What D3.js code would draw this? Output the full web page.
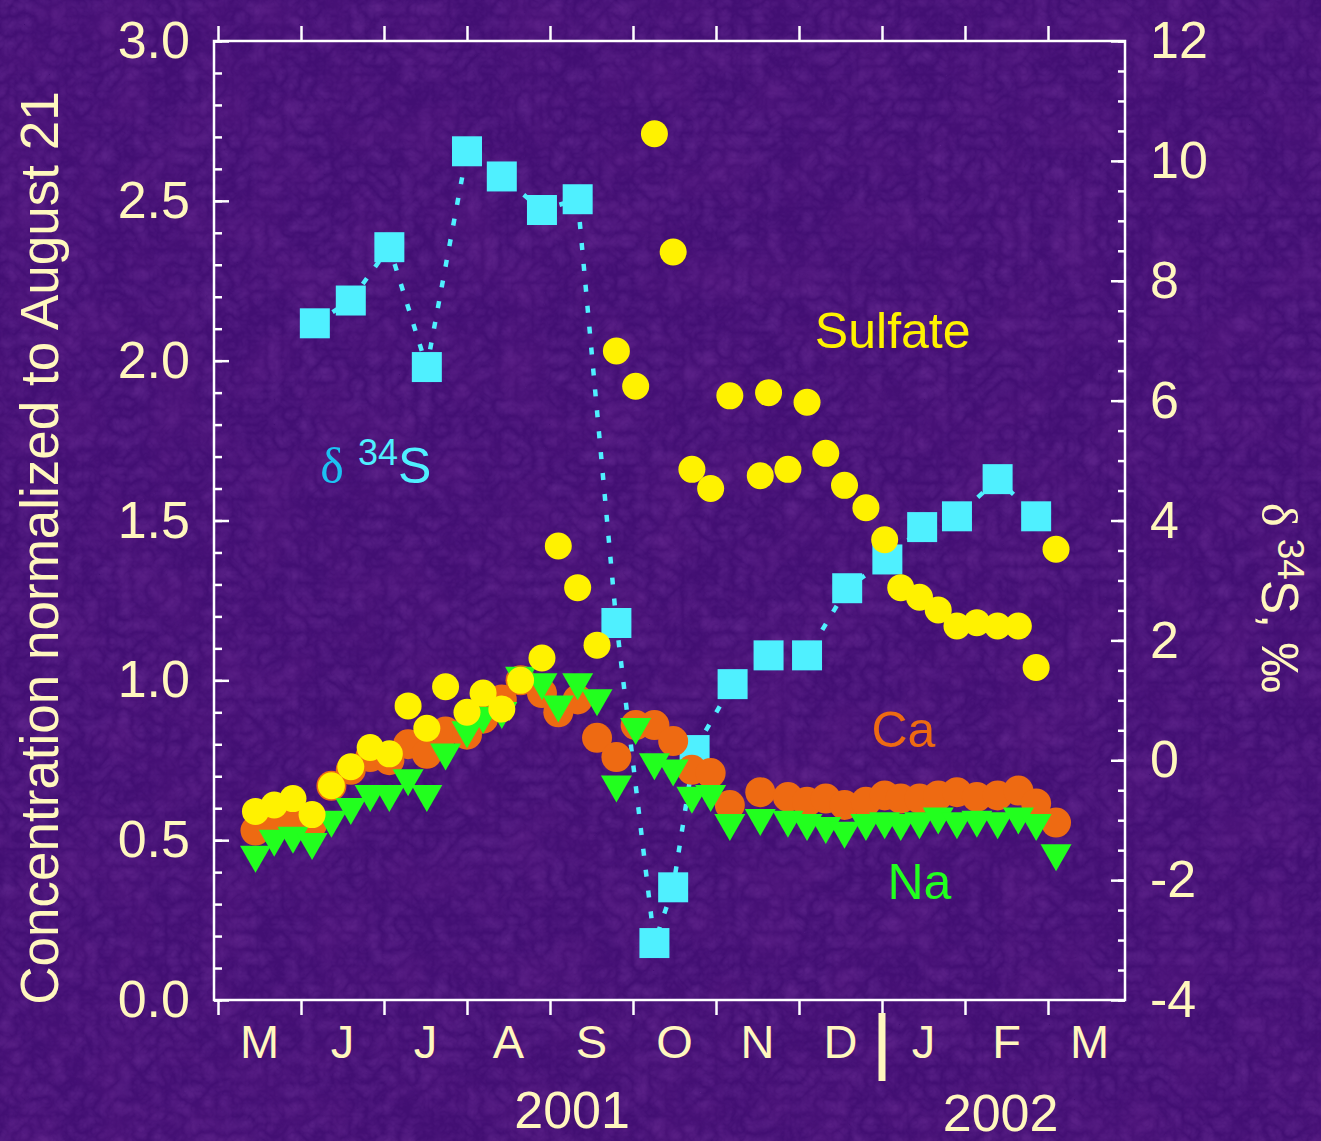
<!DOCTYPE html>
<html>
<head>
<meta charset="utf-8">
<script src="https://cdn.jsdelivr.net/npm/d3@7"></script>
<style>
  html, body { margin: 0; padding: 0; background: #420f73; }
  svg { display: block; }
</style>
</head>
<body>
<svg id="chart" width="1321" height="1141"></svg>
<script>
// Weekly sampling dates for the dissolved-ion series
const sampleDates = [
  "2001-05-15","2001-05-22","2001-05-29","2001-06-05","2001-06-12","2001-06-19","2001-06-26",
  "2001-07-03","2001-07-10","2001-07-17","2001-07-24","2001-08-01","2001-08-07","2001-08-14",
  "2001-08-21","2001-08-29","2001-09-04","2001-09-11","2001-09-18","2001-09-25","2001-10-02",
  "2001-10-09","2001-10-16","2001-10-23","2001-10-30","2001-11-06","2001-11-17","2001-11-20",
  "2001-11-27","2001-12-04","2001-12-11","2001-12-18","2001-12-26","2002-01-02","2002-01-08",
  "2002-01-15","2002-01-22","2002-01-29","2002-02-05","2002-02-12","2002-02-19","2002-02-25",
  "2002-03-04"
];

// Concentrations normalized to the August 21 sample (null = not measured)
const sulfate = [
  0.59, 0.61, 0.63, 0.58, 0.67, 0.73, 0.79, 0.77, 0.92, 0.85, 0.98, 0.90, 0.96, 0.91,
  1.00, 1.07, 1.42, 1.29, 1.11, 2.03, 1.92, 2.71, 2.34, 1.66, 1.60, 1.89, 1.64, 1.90,
  1.66, 1.87, 1.71, 1.61, 1.54, 1.44, 1.29, 1.26, 1.22, 1.17, 1.18, 1.17, 1.17, 1.04,
  1.41
];
const calcium = [
  0.53, 0.56, 0.58, 0.55, 0.67, 0.72, 0.76, 0.75, 0.80, 0.77, 0.84, 0.83, 0.88, 0.94,
  1.00, 0.96, 0.90, 0.94, 0.82, 0.76, 0.86, 0.86, 0.81, 0.72, 0.71, 0.61, 0.65, null,
  0.635, 0.62, 0.63, 0.61, 0.62, 0.64, 0.63, 0.63, 0.64, 0.65, 0.635, 0.64, 0.655, 0.615,
  0.555
];
const sodium = [
  0.44, 0.49, 0.50, 0.48, 0.55, 0.59, 0.63, 0.63, 0.68, 0.63, 0.76, 0.83, 0.875, 0.89,
  1.00, 0.98, 0.91, 0.98, 0.93, 0.66, 0.84, 0.73, 0.71, 0.625, 0.63, 0.54, 0.555, null,
  0.55, 0.54, 0.53, 0.515, 0.54, 0.545, 0.54, 0.545, 0.56, 0.545, 0.55, 0.545, 0.56, 0.54,
  0.445
];

// Sulfur isotope composition of sulfate, per mil
const d34SDates = [
  "2001-06-06","2001-06-19","2001-07-03","2001-07-17","2001-08-01","2001-08-14","2001-08-29",
  "2001-09-11","2001-09-25","2001-10-09","2001-10-16","2001-10-24","2001-11-07","2001-11-20",
  "2001-12-04","2001-12-19","2002-01-03","2002-01-16","2002-01-29","2002-02-12","2002-02-25"
];
const d34S = [
  7.29, 7.67, 8.56, 6.56, 10.16, 9.74, 9.18, 9.36, 2.29, -3.05, -2.12, 0.17, 1.27, 1.75,
  1.75, 2.87, 3.35, 3.89, 4.07, 4.69, 4.07
];

// Axis labelling
const monthLetters = ["M","J","J","A","S","O","N","D","J","F","M"];
const leftTicks = [0, 0.5, 1, 1.5, 2, 2.5, 3];
const rightTicks = [-4, -2, 0, 2, 4, 6, 8, 10, 12];
const yearLabels = ["2001", "2002"];
const yearLabelDates = ["2001-09-09", "2002-02-13"];

// ---------------------------------------------------------------
const parse = d3.timeParse("%Y-%m-%d");
const svg = d3.select("#chart");
const W = 1321, H = 1141;
const plot = { left: 214, right: 1125, top: 41, bottom: 1000 };
const cream = "#fff7be";
const sans = "'Liberation Sans', Arial, Helvetica, sans-serif";
const serif = "'Liberation Serif', 'Times New Roman', serif";

// Months are drawn with equal widths: a piecewise time scale through month starts
const monthStarts = d3.timeMonth.range(new Date(2001, 4, 1), new Date(2002, 3, 2));
const monthW = 83;
const x = d3.scaleTime()
  .domain(monthStarts)
  .range(monthStarts.map((d, i) => 218 + monthW * i));
const yL = d3.scaleLinear().domain([0, 3]).range([plot.bottom, plot.top]);
const yR = d3.scaleLinear().domain([-4, 12]).range([plot.bottom, plot.top]);

// Background with a fine, fibrous purple texture
const defs = svg.append("defs");
const tex = defs.append("filter").attr("id", "mottle")
  .attr("x", 0).attr("y", 0).attr("width", "100%").attr("height", "100%");
tex.append("feTurbulence").attr("type", "turbulence")
  .attr("baseFrequency", "0.06").attr("numOctaves", 3).attr("seed", 11).attr("result", "n");
tex.append("feColorMatrix").attr("in", "n").attr("type", "matrix")
  .attr("values", "0 0 0 0 0.40  0 0 0 0 0.12  0 0 0 0 0.62  1.3 0 0 0 -0.1");
const tex2 = defs.append("filter").attr("id", "shade")
  .attr("x", 0).attr("y", 0).attr("width", "100%").attr("height", "100%");
tex2.append("feTurbulence").attr("type", "fractalNoise")
  .attr("baseFrequency", "0.02").attr("numOctaves", 2).attr("seed", 4).attr("result", "n");
tex2.append("feColorMatrix").attr("in", "n").attr("type", "matrix")
  .attr("values", "0 0 0 0 0.16  0 0 0 0 0.02  0 0 0 0 0.28  -1.4 0 0 0 0.85");
svg.append("rect").attr("width", W).attr("height", H).attr("fill", "#420f73");
svg.append("rect").attr("width", W).attr("height", H)
  .attr("filter", "url(#mottle)").attr("opacity", 0.22);
svg.append("rect").attr("width", W).attr("height", H)
  .attr("filter", "url(#shade)").attr("opacity", 0.35);

// Frame
svg.append("rect")
  .attr("x", plot.left).attr("y", plot.top)
  .attr("width", plot.right - plot.left).attr("height", plot.bottom - plot.top)
  .attr("fill", "none").attr("stroke", "#ffffff").attr("stroke-width", 2.5);

function styleTicks(g, w) {
  g.select(".domain").remove();
  g.selectAll(".tick line").attr("stroke", "#ffffff").attr("stroke-width", w);
}
function styleLabels(g, size) {
  g.select(".domain").remove();
  g.selectAll(".tick line").remove();
  g.selectAll(".tick text").attr("fill", cream)
    .style("font-family", sans).style("font-size", size + "px");
}

// Left axis: minor and major ticks pointing inward, labels outside
svg.append("g").attr("transform", `translate(${plot.left},0)`)
  .call(d3.axisRight(yL).tickValues(d3.range(0, 31).map(i => i / 10)).tickSize(8).tickFormat(""))
  .call(g => styleTicks(g, 2.5));
svg.append("g").attr("transform", `translate(${plot.left},0)`)
  .call(d3.axisRight(yL).tickValues(leftTicks).tickSize(15).tickFormat(""))
  .call(g => styleTicks(g, 2.5));
svg.append("g").attr("transform", `translate(${plot.left},0)`)
  .call(d3.axisLeft(yL).tickValues(leftTicks).tickSize(0).tickPadding(24).tickFormat(d3.format(".1f")))
  .call(g => styleLabels(g, 52));

// Right axis (delta 34S)
svg.append("g").attr("transform", `translate(${plot.right},0)`)
  .call(d3.axisLeft(yR).tickValues(d3.range(0, 33).map(i => -4 + i / 2)).tickSize(7).tickFormat(""))
  .call(g => styleTicks(g, 2.5));
svg.append("g").attr("transform", `translate(${plot.right},0)`)
  .call(d3.axisLeft(yR).tickValues(rightTicks).tickSize(14).tickFormat(""))
  .call(g => styleTicks(g, 2.5));
svg.append("g").attr("transform", `translate(${plot.right},0)`)
  .call(d3.axisRight(yR).tickValues(rightTicks).tickSize(0).tickPadding(25).tickFormat(d => String(d)))
  .call(g => styleLabels(g, 52));

// Month ticks on top and bottom (outside the frame)
const tickMonths = monthStarts.slice(0, 11);
svg.append("g").attr("transform", `translate(0,${plot.top})`)
  .call(d3.axisTop(x).tickValues(tickMonths).tickSize(15).tickFormat(""))
  .call(g => styleTicks(g, 2.5));
svg.append("g").attr("transform", `translate(0,${plot.bottom})`)
  .call(d3.axisBottom(x).tickValues(tickMonths).tickSize(15).tickFormat(""))
  .call(g => styleTicks(g, 2.5));

// Year boundary marker
const newYear = new Date(2002, 0, 1);
svg.append("line")
  .attr("x1", x(newYear)).attr("x2", x(newYear))
  .attr("y1", 1013).attr("y2", 1081)
  .attr("stroke", cream).attr("stroke-width", 7);

// Month initials centred within each month
svg.append("g").selectAll("text").data(monthLetters).join("text")
  .attr("x", (d, i) => (x(monthStarts[i]) + x(monthStarts[i + 1])) / 2)
  .attr("y", 1058)
  .attr("text-anchor", "middle")
  .attr("fill", cream)
  .style("font-family", sans).style("font-size", "47px")
  .text(d => d);

// Years
svg.append("g").selectAll("text").data(yearLabels).join("text")
  .attr("x", (d, i) => x(parse(yearLabelDates[i])))
  .attr("y", (d, i) => i === 0 ? 1128 : 1131)
  .attr("text-anchor", "middle")
  .attr("fill", cream)
  .style("font-family", sans).style("font-size", "52px")
  .text(d => d);

// Left axis title
svg.append("text")
  .attr("transform", "translate(58,548) rotate(-90)")
  .attr("text-anchor", "middle")
  .attr("fill", cream)
  .style("font-family", sans).style("font-size", "53px")
  .text("Concentration normalized to August 21");

// Right axis title: δ34S, ‰
const rt = svg.append("text")
  .attr("transform", "translate(1262,598) rotate(90)")
  .attr("text-anchor", "middle")
  .attr("fill", cream)
  .style("font-family", sans).style("font-size", "51px");
rt.append("tspan").style("font-family", serif).text("δ");
rt.append("tspan").attr("dx", 12).attr("dy", -16).style("font-size", "37px").text("34");
rt.append("tspan").attr("dy", 16).text("S, ‰");

// ---- data marks ----
const concData = sampleDates.map((s, i) => ({
  date: parse(s), so4: sulfate[i], ca: calcium[i], na: sodium[i]
}));
const isoData = d34SDates.map((s, i) => ({ date: parse(s), v: d34S[i] }));

const cyan = "#4ff0ff";
const isoLine = d3.line().x(d => x(d.date)).y(d => yR(d.v));
svg.append("path")
  .datum(isoData)
  .attr("d", isoLine)
  .attr("fill", "none")
  .attr("stroke", cyan)
  .attr("stroke-width", 4.5)
  .attr("stroke-dasharray", "7 14");

svg.append("g").selectAll("path").data(isoData).join("path")
  .attr("d", d3.symbol(d3.symbolSquare, 900))
  .attr("transform", d => `translate(${x(d.date)},${yR(d.v)})`)
  .attr("fill", cyan);

svg.append("g").selectAll("circle").data(concData.filter(d => d.ca != null)).join("circle")
  .attr("cx", d => x(d.date)).attr("cy", d => yL(d.ca))
  .attr("r", 15).attr("fill", "#ee6a12");

const tri = "M-15.5,-13.5L15.5,-13.5L0,13.5Z";
svg.append("g").selectAll("path").data(concData.filter(d => d.na != null)).join("path")
  .attr("d", tri)
  .attr("transform", d => `translate(${x(d.date)},${yL(d.na)})`)
  .attr("fill", "#22ff1e");

svg.append("g").selectAll("circle").data(concData.filter(d => d.so4 != null)).join("circle")
  .attr("cx", d => x(d.date)).attr("cy", d => yL(d.so4))
  .attr("r", 13.5).attr("fill", "#fff200");

// ---- series labels ----
function label(text, date, v, color) {
  svg.append("text")
    .attr("x", x(parse(date))).attr("y", yL(v))
    .attr("text-anchor", "middle")
    .attr("fill", color)
    .style("font-family", sans).style("font-size", "50px")
    .text(text);
}
label("Sulfate", "2002-01-05", 2.04, "#fff200");
label("Ca", "2002-01-09", 0.79, "#ee6a12");
label("Na", "2002-01-15", 0.315, "#22ff1e");

const dl = svg.append("text")
  .attr("x", x(parse("2001-06-08"))).attr("y", yL(1.616))
  .attr("fill", cyan)
  .style("font-family", sans).style("font-size", "50px");
dl.append("tspan").style("font-family", serif).attr("fill", "#1cc2f2").text("δ");
dl.append("tspan").attr("dx", 14).attr("dy", -18).style("font-size", "36px").text("34");
dl.append("tspan").attr("dy", 18).text("S");
</script>
</body>
</html>
